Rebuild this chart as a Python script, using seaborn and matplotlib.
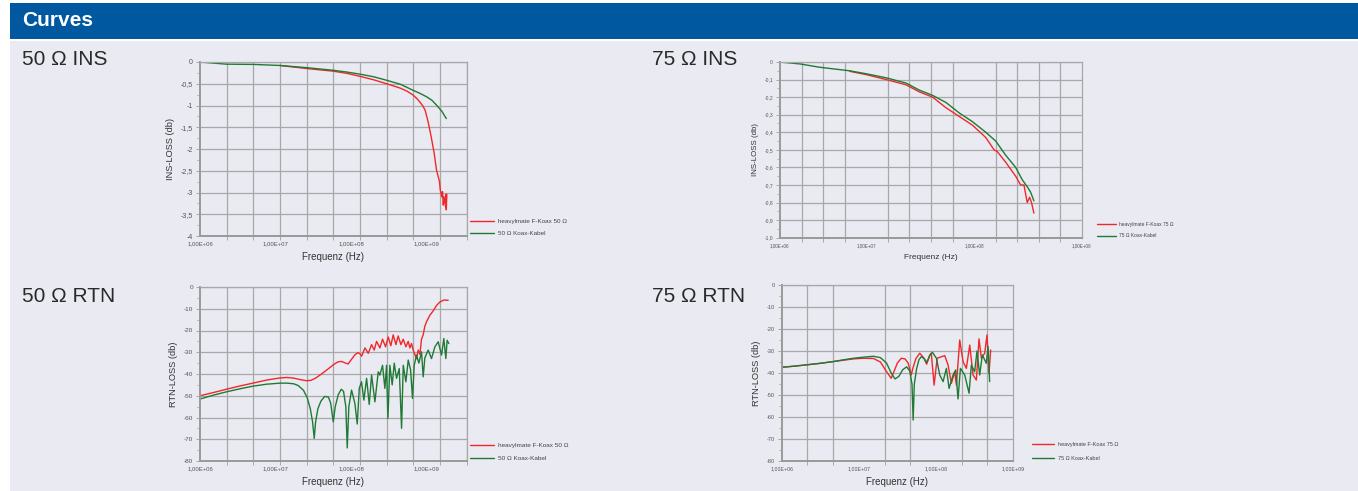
import numpy as np
import pandas as pd
import matplotlib.pyplot as plt
import seaborn as sns
from matplotlib.patches import Rectangle
from matplotlib.ticker import FixedLocator, FixedFormatter, NullFormatter

# --- Daten (x = log10 der Frequenz in Hz, y = Dämpfung in dB) ---
ins50_green_logf = [6.0, 6.35, 6.7, 7.06, 7.41, 7.76, 7.94, 8.12, 8.3, 8.47, 8.65, 8.82, 8.91,
                    9.0, 9.07, 9.13, 9.2, 9.26]
ins50_green_db = [0.0, -0.05, -0.055, -0.08, -0.13, -0.19, -0.23, -0.28, -0.34, -0.42, -0.51, -0.65,
                  -0.72, -0.80, -0.88, -0.99, -1.13, -1.30]
ins50_red_logf = [7.06, 7.41, 7.76, 7.94, 8.12, 8.3, 8.47, 8.65, 8.74, 8.82, 8.87, 8.91, 8.95, 8.98,
                  9.02, 9.06, 9.10, 9.13, 9.17, 9.18, 9.20, 9.21, 9.22, 9.23, 9.25, 9.255, 9.26, 9.267]
ins50_red_db = [-0.08, -0.15, -0.21, -0.26, -0.33, -0.41, -0.50, -0.60, -0.67, -0.76, -0.84, -0.92,
                -1.01, -1.11, -1.38, -1.72, -2.10, -2.48, -2.75, -2.94, -3.10, -2.98, -3.29, -3.10,
                -3.33, -3.04, -3.40, -3.04]

ins75_green_logf = [6.2, 6.385, 6.569, 6.846, 7.0, 7.185, 7.369, 7.492, 7.615, 7.738, 7.862, 7.985,
                    8.108, 8.2, 8.292, 8.385, 8.446, 8.492, 8.523, 8.554]
ins75_green_db = [0.0, -0.011, -0.03, -0.05, -0.067, -0.09, -0.12, -0.16, -0.19, -0.23, -0.29, -0.34,
                  -0.40, -0.45, -0.53, -0.60, -0.67, -0.71, -0.74, -0.79]
ins75_red_logf = [6.846, 7.0, 7.185, 7.369, 7.492, 7.615, 7.738, 7.862, 7.985, 8.108, 8.185, 8.215,
                  8.292, 8.385, 8.431, 8.462, 8.492, 8.514, 8.532, 8.554]
ins75_red_db = [-0.053, -0.072, -0.10, -0.13, -0.17, -0.20, -0.26, -0.31, -0.36, -0.43, -0.50, -0.51,
                -0.57, -0.65, -0.70, -0.70, -0.80, -0.77, -0.80, -0.86]

rtn50_red_logf = [6.0, 6.18, 6.35, 6.53, 6.70, 6.88, 7.06, 7.15, 7.24, 7.33, 7.41, 7.47, 7.53,
                  7.60, 7.68, 7.76, 7.82, 7.87, 7.92, 7.96, 8.00, 8.05, 8.09, 8.12, 8.14,
                  8.183, 8.227, 8.271, 8.306, 8.337, 8.381, 8.416, 8.456, 8.491, 8.526,
                  8.557, 8.593, 8.623, 8.659, 8.690, 8.725, 8.756, 8.778, 8.800, 8.822, 8.844, 8.866,
                  8.888, 8.910, 8.932, 8.954, 8.976, 8.998, 9.042, 9.086, 9.131, 9.175, 9.227, 9.285]
rtn50_red_db = [-50, -48.5, -47.0, -45.5, -44.2, -42.8, -41.8, -41.6, -41.9, -42.6, -43.1, -42.9, -41.9,
                -40.2, -38.1, -35.9, -34.5, -34.2, -34.9, -35.4, -33.5, -31.2, -30.2, -30.8, -31.8,
                -28, -30.5, -26.5, -29, -25, -28, -24, -27.5, -23, -27,
                -22, -26.5, -22.5, -26.5, -24, -27.5, -25, -28, -26, -29, -31, -33,
                -29, -31, -24, -22, -18, -16, -13, -11, -8.5, -6.9, -6.0, -6.1]
rtn50_green_logf = [6.0, 6.18, 6.35, 6.53, 6.70, 6.88, 7.06, 7.15, 7.24, 7.30, 7.37, 7.42, 7.46,
                    7.49, 7.512, 7.53, 7.56, 7.60, 7.65, 7.70, 7.73, 7.764, 7.79, 7.83, 7.87, 7.90,
                    7.93, 7.949, 7.97, 8.006, 8.050, 8.081, 8.108, 8.138, 8.169, 8.205, 8.240, 8.271,
                    8.315, 8.359, 8.381, 8.416, 8.447, 8.469, 8.487, 8.513, 8.544, 8.571, 8.601,
                    8.637, 8.668, 8.690, 8.725, 8.756, 8.787, 8.813, 8.835, 8.866, 8.897, 8.932,
                    8.954, 8.976, 9.020, 9.064, 9.109, 9.153, 9.197, 9.227, 9.254, 9.271, 9.294]
rtn50_green_db = [-51.5, -49.7, -48.2, -46.8, -45.6, -44.7, -44.2, -44.2, -44.5, -45.3, -47.5, -51, -56,
                  -62, -69.6, -62, -56, -52.5, -50.3, -50.6, -53.5, -62, -55, -49.5, -47, -48,
                  -55, -74, -55, -47.4, -53.5, -63, -46.6, -43.6, -52, -42, -54, -40.5,
                  -52.8, -39, -40.5, -36, -46.6, -36, -60.4, -36, -45, -35, -42,
                  -37.5, -65, -36, -43.6, -33.6, -38, -51.2, -36, -31.3, -35, -29.8,
                  -41.3, -32.6, -29, -32.9, -27.5, -25.2, -31.3, -23.7, -32.9, -24.5, -26]

rtn75_red_logf = [6.0, 6.16, 6.32, 6.5, 6.67, 6.8, 6.93, 7.06, 7.19, 7.28, 7.36, 7.42, 7.46, 7.50,
                  7.55, 7.60, 7.64, 7.68, 7.70, 7.74, 7.79, 7.84, 7.88, 7.92, 7.94, 7.977, 8.016,
                  8.115, 8.158, 8.201, 8.244, 8.266, 8.309, 8.352, 8.395, 8.439, 8.482, 8.525, 8.559,
                  8.590, 8.633, 8.663, 8.689, 8.710]
rtn75_red_db = [-37.4, -36.9, -36.3, -35.6, -34.8, -34.2, -33.6, -33.3, -33.4, -35, -39.4, -42.4, -39,
                -35.5, -33.3, -33.6, -35.5, -40.9, -38, -33.5, -31, -33, -36, -32, -31, -45.5, -33.3,
                -32.1, -36.4, -44.7, -39.4, -45.5, -25, -34.8, -37.9, -27.3, -40.9, -43.2, -24.5,
                -33.3, -31, -22.7, -40.2, -29.5]
rtn75_green_logf = [6.0, 6.16, 6.32, 6.5, 6.67, 6.8, 6.93, 7.06, 7.19, 7.28, 7.36, 7.42, 7.47, 7.52,
                    7.57, 7.62, 7.66, 7.69, 7.705, 7.72, 7.75, 7.78, 7.81, 7.85, 7.88, 7.92, 7.955,
                    8.007, 8.050, 8.093, 8.136, 8.171, 8.223, 8.257, 8.287, 8.318, 8.374, 8.430,
                    8.460, 8.503, 8.533, 8.568, 8.602, 8.654, 8.676, 8.697]
rtn75_green_db = [-37.4, -36.9, -36.3, -35.6, -34.8, -34.0, -33.3, -32.8, -32.4, -33, -35.5, -40,
                  -42.7, -41.5, -38.5, -37.2, -39, -45, -61.4, -45, -38, -34, -32.6, -33.5, -35.2,
                  -32, -30.6, -33.3, -40.9, -43.9, -37.9, -47, -40.9, -38.6, -51.8, -37.9, -40.9,
                  -49.2, -36.4, -39.4, -30, -40.9, -31.8, -35.6, -28, -43.9]

dec_labels = ['1,00E+06', '1,00E+07', '1,00E+08', '1,00E+09']

# --- Stil ---
sns.set_theme(style="white")
plt.rcParams['font.family'] = ['Liberation Sans', 'DejaVu Sans']

W, H = 1358, 491
RED = '#f0282a'
GREEN = '#1f7a35'
GRID = '#a8a8a8'
BG = '#eaeaf2'

fig = plt.figure(figsize=(W / 100, H / 100), dpi=100)
fig.patch.set_facecolor('white')
fig.patches.append(Rectangle((10 / W, 0), 1, (H - 41) / H, transform=fig.transFigure,
                             facecolor=BG, edgecolor='none', zorder=-10))
fig.patches.append(Rectangle((10 / W, (H - 39) / H), 1, 36 / H, transform=fig.transFigure,
                             facecolor='#0058a0', edgecolor='none', zorder=-10))
fig.text(22 / W, 1 - 21 / H, 'Curves', color='white', fontsize=15, fontweight='bold', va='center')


def px_axes(l, t, r, b):
    return fig.add_axes([l / W, 1 - b / H, (r - l) / W, (b - t) / H])


def panel(ax, series, xlim_exp, n_grid, label_exp, ylim, ystep, ylabels, ylabel,
          fs_tick, fs_xtick, fs_lab, leg_xy, leg_fs, leg_hl, leg_sp):
    for logf, vals, color, name in series:
        df = pd.DataFrame({'f': 10 ** np.array(logf), 'db': vals})
        sns.lineplot(data=df, x='f', y='db', color=color, lw=1.0, label=name,
                     estimator=None, sort=False, ax=ax)
    ax.set_xscale('log')
    ax.set_xlim(10 ** xlim_exp[0], 10 ** xlim_exp[1])
    ax.set_ylim(*ylim)
    ax.set_facecolor('none')

    # x: Beschriftung an den Dekaden, Gitter gleichmäßig im Log-Raum
    ax.xaxis.set_major_locator(FixedLocator([10 ** e for e in label_exp]))
    ax.xaxis.set_major_formatter(FixedFormatter(dec_labels))
    ax.xaxis.set_minor_locator(FixedLocator(np.logspace(xlim_exp[0], xlim_exp[1], n_grid + 1)))
    ax.xaxis.set_minor_formatter(NullFormatter())
    ax.tick_params(axis='x', which='major', length=0, labelsize=fs_xtick, pad=4, colors='#555555')
    ax.tick_params(axis='x', which='minor', length=3, width=0.7, color=GRID, bottom=True)

    yt = np.arange(ylim[1], ylim[0] - ystep / 4, -ystep)
    ax.set_yticks(yt)
    ax.set_yticklabels(ylabels)
    ax.yaxis.set_minor_locator(FixedLocator(yt[:-1] - ystep / 2))
    ax.tick_params(axis='y', which='major', length=3, width=0.7, color=GRID,
                   labelsize=fs_tick, pad=2, colors='#555555', left=True)
    ax.tick_params(axis='y', which='minor', length=2, width=0.6, color=GRID, left=True)

    ax.grid(False)
    ax.grid(True, axis='x', which='minor', color=GRID, lw=0.9)
    ax.grid(True, axis='y', which='major', color=GRID, lw=0.9)
    for side in ['top', 'right']:
        ax.spines[side].set_color(GRID)
        ax.spines[side].set_linewidth(0.9)
    for side in ['left', 'bottom']:
        ax.spines[side].set_color('#999999')
        ax.spines[side].set_linewidth(1.4)

    ax.set_xlabel('Frequenz (Hz)', fontsize=fs_lab, color='#333333', labelpad=4)
    ax.set_ylabel(ylabel, fontsize=fs_lab * 0.95, color='#333333', labelpad=4)

    ax.legend(loc='upper left', bbox_to_anchor=(leg_xy[0] / W, 1 - leg_xy[1] / H),
              bbox_transform=fig.transFigure, frameon=False, fontsize=leg_fs,
              handlelength=leg_hl, handletextpad=0.6, labelspacing=leg_sp,
              borderpad=0, borderaxespad=0, labelcolor='#444444')


# Panel-Überschriften
for x, y, txt in [(22, 60, '50 Ω INS'), (652, 60, '75 Ω INS'),
                  (22, 296, '50 Ω RTN'), (652, 296, '75 Ω RTN')]:
    fig.text(x / W, 1 - y / H, txt, fontsize=15, color='#2a2a2a', va='center')

# 50 Ω INS
ax1 = px_axes(200, 62, 466.7, 236)
panel(ax1, [(ins50_red_logf, ins50_red_db, RED, 'heavylmate F-Koax 50 Ω'),
            (ins50_green_logf, ins50_green_db, GREEN, '50 Ω Koax-Kabel')],
      (6.0, 9.53), 10, [6, 7, 8, 9], (-4, 0), 0.5,
      ['0', '-0,5', '-1', '-1,5', '-2', '-2,5', '-3', '-3,5', '-4'], 'INS-LOSS (db)',
      5.0, 4.3, 7.0, (470, 219), 4.5, 3.8, 1.0)

# 75 Ω INS
ax2 = px_axes(780, 62, 1082, 237.7)
panel(ax2, [(ins75_red_logf, ins75_red_db, RED, 'heavylmate F-Koax 75 Ω'),
            (ins75_green_logf, ins75_green_db, GREEN, '75 Ω Koax-Kabel')],
      (6.2, 9.0), 14, [6.2, 7, 8, 9], (-1.0, 0), 0.1,
      ['0', '-0,1', '-0,2', '-0,3', '-0,4', '-0,5', '-0,6', '-0,7', '-0,8', '-0,9', '-1,0'],
      'INS-LOSS (db)', 3.6, 3.3, 6.0, (1097, 222), 3.5, 3.9, 1.3)

# 50 Ω RTN
ax3 = px_axes(200, 287, 466.7, 461)
panel(ax3, [(rtn50_red_logf, rtn50_red_db, RED, 'heavylmate F-Koax 50 Ω'),
            (rtn50_green_logf, rtn50_green_db, GREEN, '50 Ω Koax-Kabel')],
      (6.0, 9.53), 10, [6, 7, 8, 9], (-80, 0), 10,
      ['0', '-10', '-20', '-30', '-40', '-50', '-60', '-70', '-80'], 'RTN-LOSS (db)',
      4.6, 4.3, 7.0, (470, 443), 4.6, 3.8, 1.1)

# 75 Ω RTN
ax4 = px_axes(781.7, 285, 1013, 461)
panel(ax4, [(rtn75_red_logf, rtn75_red_db, RED, 'heavylmate F-Koax 75 Ω'),
            (rtn75_green_logf, rtn75_green_db, GREEN, '75 Ω Koax-Kabel')],
      (6.0, 9.0), 9, [6, 7, 8, 9], (-80, 0), 10,
      ['0', '-10', '-20', '-30', '-40', '-50', '-60', '-70', '-80'], 'RTN-LOSS (db)',
      4.0, 3.8, 7.0, (1032, 442), 4.0, 4.0, 1.6)

fig.savefig('out.png', dpi=100, facecolor=fig.get_facecolor())
